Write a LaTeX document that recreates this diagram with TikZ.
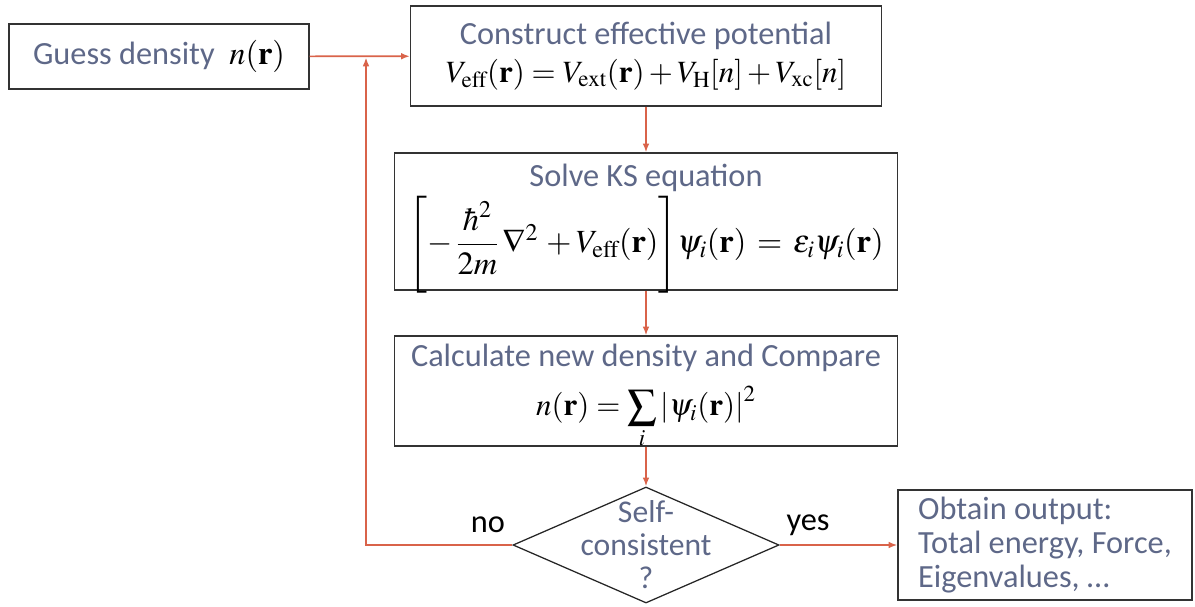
\documentclass[tikz,border=0pt]{standalone}
\usepackage{amsmath}
\usepackage{mathptmx}
\usepackage{graphicx}
\usepackage[no-math]{fontspec}
\setmainfont{Carlito}
\usepackage{xcolor}
\definecolor{labelgray}{HTML}{5E6888}
\definecolor{flowred}{HTML}{D9634A}
\usetikzlibrary{shapes.geometric, arrows.meta, positioning}

\begin{document}
\begin{tikzpicture}[
	x=0.025cm, y=-0.025cm,
	boxtext/.style={align=center, inner sep=0pt, font=\fontsize{23}{29}\selectfont, text=labelgray},
	box/.style={rectangle, draw=black!80, line width=0.9pt, boxtext},
	decision/.style={diamond, draw=black!85, line width=0.9pt, inner sep=0pt, minimum width=6.65cm, minimum height=2.9cm},
	arr/.style={-{Latex[length=2.2mm, width=1.7mm]}, draw=flowred, line width=1.2pt},
	lbl/.style={font=\fontsize{23}{27}\selectfont, text=black}
	]
	\useasboundingbox (0,0) rectangle (1195,606);

	\node[box, minimum width=7.5cm, minimum height=1.625cm] (guess) at (159,56.5) {Guess density\ \ {\color{black}$n(\mathbf{r})$}};
	\node[box, minimum width=11.775cm, minimum height=2.5cm] (construct) at (646,56) {Construct effective potential\\[-2pt]{\fontsize{22}{26}\selectfont\color{black}$V_{\mathrm{eff}}(\mathbf{r}) = V_{\mathrm{ext}}(\mathbf{r}) + V_{\mathrm{H}}[n] + V_{\mathrm{xc}}[n]$}};
	\node[box, minimum width=12.575cm, minimum height=3.425cm, label={[boxtext, yshift=-5pt]center:{Solve KS equation\\[2pt]{\fontsize{23}{27}\selectfont\color{black}$\left[-\,\dfrac{\hbar^2}{2m}\,\nabla^2 \,+ V_{\mathrm{eff}}(\mathbf{r})\right]\!\psi_i(\mathbf{r}) \,=\, \varepsilon_i\psi_i(\mathbf{r})$}}}] (solve) at (646,221.5) {};
	\node[box, minimum width=12.575cm, minimum height=2.75cm, label={[boxtext, yshift=-4pt]center:{Calculate new density and Compare\\[6pt]{\fontsize{22}{26}\selectfont\color{black}$n(\mathbf{r}) = \mathop{\vcenter{\hbox{\scalebox{1.35}{$\sum$}}}}\limits_i \left|\psi_i(\mathbf{r})\right|^2$}}}] (calc) at (646,391) {};
	\node[decision, label={[align=center, text=labelgray, font=\fontsize{22.5}{23.5}\selectfont]center:Self-\\consistent\\?}] (check) at (646,545) {};
	\node[box, align=left, minimum width=7.35cm, minimum height=2.75cm, font=\fontsize{23}{24.5}\selectfont] (output) at (1045,545) {Obtain output:\\Total energy, Force,\\Eigenvalues, \dots};
	\coordinate (join) at (366,57.5);

	\draw[arr] (guess) -- (construct);
	\draw[arr] (construct) -- (solve);
	\draw[arr] (solve) -- (calc);
	\draw[arr] (calc) -- (check);
	\draw[arr] (check) -- (output);
	\draw[arr] (check.west) -| (join);

	\node[lbl] (no) at (488,525) {no};
	\node[lbl] (yes) at (808,525) {yes};
\end{tikzpicture}
\end{document}
